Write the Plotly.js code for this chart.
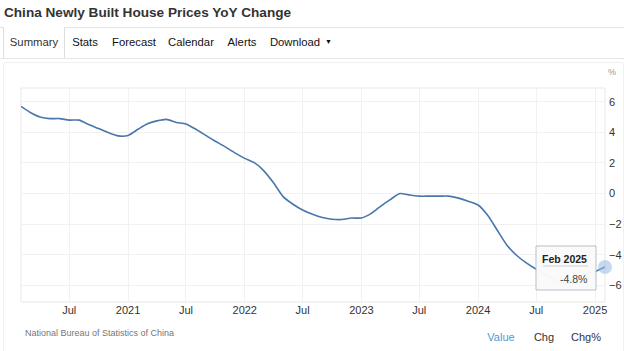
<!DOCTYPE html>
<html><head><meta charset="utf-8">
<script src="https://cdn.plot.ly/plotly-3.0.1.min.js"></script>
<style>
body{margin:0;width:624px;height:351px;overflow:hidden;background:#fff;font-family:Arial,"Liberation Sans",sans-serif;position:relative}
#chart{position:absolute;left:0;top:0;width:624px;height:351px}
.t{position:absolute;white-space:nowrap;line-height:1}
.c{transform:translateX(-50%)}
</style></head><body>
<div style="position:absolute;left:3px;top:62px;width:619px;height:300px;border:1px solid #f0f0f0;border-radius:3px"></div>
<div id="chart"></div>
<div class="t" style="left:4px;top:6px;font-size:13.6px;font-weight:bold;color:#333">China Newly Built House Prices YoY Change</div>
<div style="position:absolute;left:0;top:27px;width:624px;height:30px;border-top:1px solid #e6e6e6;border-bottom:1px solid #e6e6e6"></div>
<div style="position:absolute;left:3px;top:27px;width:60px;height:31px;border-left:1px solid #dedede;border-right:1px solid #dedede;background:#fff"></div>
<div class="t c" style="left:34px;top:37px;font-size:11.3px;color:#333">Summary</div>
<div class="t c" style="left:85px;top:37px;font-size:11.3px;color:#111">Stats</div>
<div class="t c" style="left:134px;top:37px;font-size:11.3px;color:#111">Forecast</div>
<div class="t c" style="left:191px;top:37px;font-size:11.3px;color:#111">Calendar</div>
<div class="t c" style="left:242px;top:37px;font-size:11.3px;color:#111">Alerts</div>
<div class="t c" style="left:295px;top:37px;font-size:11.3px;color:#111">Download</div>
<div class="t" style="left:325px;top:38px;font-size:7px;color:#111">&#9660;</div>
<div class="t c" style="left:612px;top:68px;font-size:9px;color:#999">%</div>
<div class="t" style="left:25px;top:329px;font-size:9px;color:#777">National Bureau of Statistics of China</div>
<div class="t c" style="left:501px;top:332px;font-size:11px;color:#4b9ad6">Value</div>
<div class="t c" style="left:544px;top:332px;font-size:11px;color:#333">Chg</div>
<div class="t c" style="left:586px;top:332px;font-size:11px;color:#333">Chg%</div>
<script>
const months = ["2020-02-01","2020-03-01","2020-04-01","2020-05-01","2020-06-01","2020-07-01","2020-08-01","2020-09-01","2020-10-01","2020-11-01","2020-12-01",
"2021-01-01","2021-02-01","2021-03-01","2021-04-01","2021-05-01","2021-06-01","2021-07-01","2021-08-01","2021-09-01","2021-10-01","2021-11-01","2021-12-01",
"2022-01-01","2022-02-01","2022-03-01","2022-04-01","2022-05-01","2022-06-01","2022-07-01","2022-08-01","2022-09-01","2022-10-01","2022-11-01","2022-12-01",
"2023-01-01","2023-02-01","2023-03-01","2023-04-01","2023-05-01","2023-06-01","2023-07-01","2023-08-01","2023-09-01","2023-10-01","2023-11-01","2023-12-01",
"2024-01-01","2024-02-01","2024-03-01","2024-04-01","2024-05-01","2024-06-01","2024-07-01","2024-08-01","2024-09-01","2024-10-01","2024-11-01","2024-12-01",
"2025-01-01","2025-02-01"];
const yoy = [5.7,5.3,5.0,4.9,4.9,4.8,4.8,4.5,4.25,3.98,3.77,
3.8,4.2,4.55,4.75,4.85,4.65,4.55,4.2,3.8,3.42,3.05,2.66,
2.3,2.0,1.5,0.7,-0.2,-0.7,-1.08,-1.36,-1.57,-1.68,-1.7,-1.6,
-1.6,-1.3,-0.85,-0.4,0.0,-0.1,-0.17,-0.17,-0.17,-0.17,-0.3,-0.5,
-0.75,-1.45,-2.4,-3.4,-4.05,-4.55,-4.95,-5.3,-5.7,-5.9,-5.7,-5.3,
-5.1,-4.8];
const xTickVals = ["2020-07-01","2021-01-01","2021-07-01","2022-01-01","2022-07-01","2023-01-01","2023-07-01","2024-01-01","2024-07-01","2025-01-01"];
const xTickText = ["Jul","2021","Jul","2022","Jul","2023","Jul","2024","Jul","2025"];
const yTickVals = [-6,-4,-2,0,2,4,6];
const tipLabel = "Feb 2025";
const tipValue = "-4.8%";

const lastX = months[months.length-1];
const lastY = yoy[yoy.length-1];

const traces = [
 {x:months, y:yoy, type:'scatter', mode:'lines', line:{color:'#4a76aa', width:1.6, shape:'spline', smoothing:0.6}, cliponaxis:false, hoverinfo:'skip'},
 {x:[lastX], y:[lastY], type:'scatter', mode:'markers', marker:{size:14, color:'rgba(150,185,225,0.55)'}, cliponaxis:false, hoverinfo:'skip'}
];
const layout = {
 width:624, height:351,
 margin:{l:21, r:19, t:88, b:49},
 paper_bgcolor:'rgba(0,0,0,0)', plot_bgcolor:'rgba(0,0,0,0)',
 showlegend:false,
 font:{family:'Arial, "Liberation Sans", sans-serif', size:11, color:'#333'},
 xaxis:{type:'date', range:['2020-02-01','2025-02-01'], tickvals:xTickVals, ticktext:xTickText,
   showgrid:true, gridcolor:'#f1f1f1', zeroline:false, showline:false, ticks:'', tickfont:{size:11,color:'#333'}, fixedrange:true},
 yaxis:{range:[-7.09,6.9], tickvals:yTickVals, side:'right', showgrid:true, gridcolor:'#f1f1f1', zeroline:false, showline:false, ticks:'',
   tickfont:{size:11,color:'#333'}, ticklabelstandoff:3, fixedrange:true},
 shapes:[
  {type:'rect', xref:'paper', yref:'paper', x0:0, x1:1, y0:0, y1:1, line:{color:'#e8e8e8', width:1}, layer:'below'},
  {type:'rect', xref:'x', yref:'y', xsizemode:'pixel', ysizemode:'pixel', xanchor:lastX, yanchor:lastY,
   x0:-69, x1:-9, y0:-23, y1:21, fillcolor:'rgba(250,250,250,0.97)', line:{color:'#b3bfcc', width:1}, layer:'above'},
  {type:'line', xref:'x', yref:'y', xsizemode:'pixel', ysizemode:'pixel', xanchor:lastX, yanchor:lastY,
   x0:-62, x1:-17, y0:1, y1:1, line:{color:'#cfcfcf', width:1}, layer:'above'}
 ],
 annotations:[
  {x:lastX, y:lastY, xref:'x', yref:'y', text:'<b>'+tipLabel+'</b>', showarrow:false, xanchor:'right', yanchor:'middle', xshift:-16, yshift:8, font:{size:10.5,color:'#222'}},
  {x:lastX, y:lastY, xref:'x', yref:'y', text:tipValue, showarrow:false, xanchor:'right', yanchor:'middle', xshift:-16, yshift:-12, font:{size:10.5,color:'#444'}}
 ]
};
Plotly.newPlot('chart', traces, layout, {displayModeBar:false, staticPlot:true});
</script>
</body></html>
